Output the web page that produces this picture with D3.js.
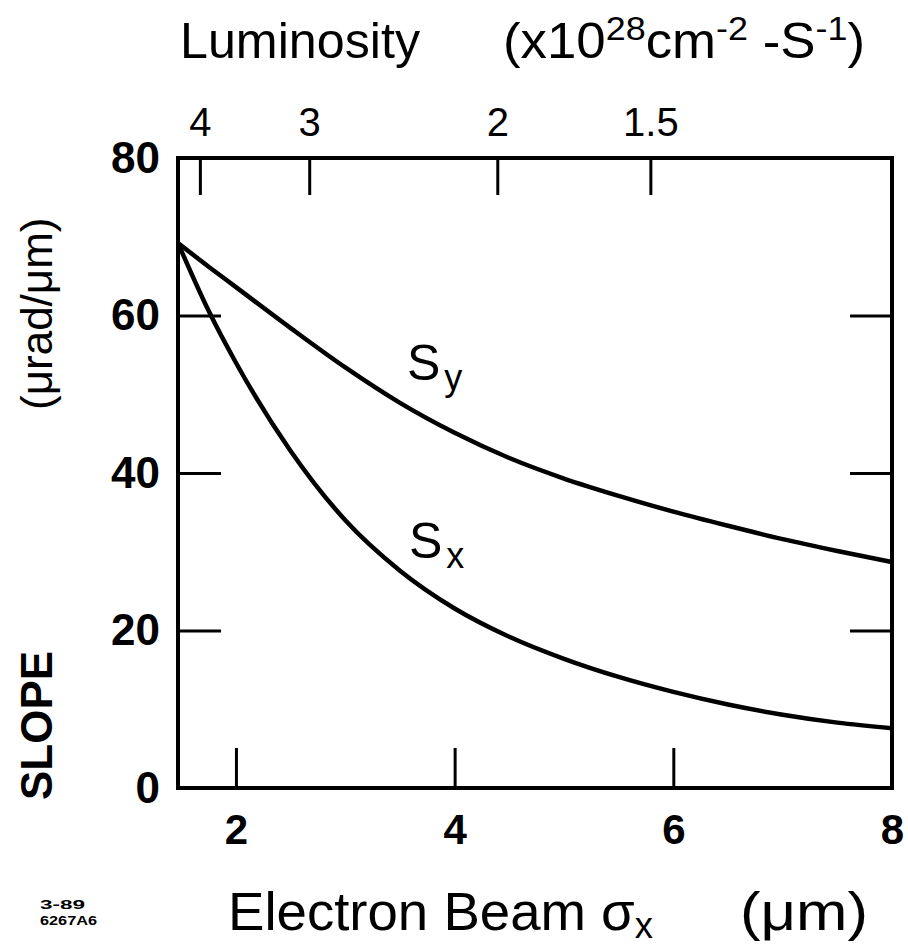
<!DOCTYPE html>
<html>
<head>
<meta charset="utf-8">
<script src="https://cdn.jsdelivr.net/npm/d3@7"></script>
<style>
  body { margin: 0; background: #fff; }
  svg { font-family: "Liberation Sans", Arial, sans-serif; }
</style>
</head>
<body>
<div class="chart"></div>
<script>
// values
var sigma   = [1.47, 1.75, 2.0, 2.5, 3.0, 3.5, 4.0, 4.5, 5.0, 5.5, 6.0, 6.5, 7.0, 7.5, 8.0];
var slopeSy = [69.2, 66.2, 63.6, 58.4, 53.4, 48.9, 45.1, 41.9, 39.3, 37.1, 35.1, 33.3, 31.6, 30.1, 28.7];
var slopeSx = [69.2, 60.6, 54.0, 42.8, 34.0, 27.6, 22.8, 19.2, 16.4, 14.1, 12.2, 10.6, 9.3, 8.3, 7.6];
var xTicks = [2, 4, 6, 8];
var yTicks = [0, 20, 40, 60, 80];
var lumLabels = ["4", "3", "2", "1.5"];
var lumSigma  = [1.67, 2.67, 4.39, 5.79];

var W = 908, H = 947;
var svg = d3.select(".chart").append("svg")
    .attr("width", W)
    .attr("height", H);

var x = d3.scaleLinear().domain([1.47, 8]).range([178, 892]);
var y = d3.scaleLinear().domain([0, 80]).range([788, 158]);

// frame
svg.append("rect")
    .attr("x", x.range()[0]).attr("y", y.range()[1])
    .attr("width", x.range()[1] - x.range()[0])
    .attr("height", y.range()[0] - y.range()[1])
    .attr("fill", "none").attr("stroke", "#000").attr("stroke-width", 4);

function styleAxis(g, size, weight) {
  g.select(".domain").remove();
  g.selectAll(".tick line").attr("stroke", "#000").attr("stroke-width", 3);
  g.selectAll(".tick text")
    .attr("fill", "#000")
    .attr("font-size", size)
    .attr("font-weight", weight);
}

// left axis
svg.append("g")
    .attr("transform", "translate(" + x.range()[0] + ",0)")
    .call(d3.axisLeft(y).tickValues(yTicks).tickSizeInner(-43).tickSizeOuter(0).tickPadding(18))
    .call(styleAxis, 44, "bold")
    .call(function(g) { g.selectAll(".tick").filter(function(d) { return d == 0 || d == 80; }).select("line").remove(); });

// right axis ticks
svg.append("g")
    .attr("transform", "translate(" + x.range()[1] + ",0)")
    .call(d3.axisRight(y).tickValues([20, 40, 60]).tickSizeInner(-42).tickSizeOuter(0).tickFormat(""))
    .call(styleAxis, 0, "normal");

// bottom axis
svg.append("g")
    .attr("transform", "translate(0," + y.range()[0] + ")")
    .call(d3.axisBottom(x).tickValues(xTicks).tickSizeInner(-40).tickSizeOuter(0).tickPadding(26).tickFormat(d3.format("d")))
    .call(styleAxis, 42, "bold")
    .call(function(g) { g.selectAll(".tick").filter(function(d) { return d == 8; }).select("line").remove(); });

// top luminosity axis
svg.append("g")
    .attr("transform", "translate(0," + y.range()[1] + ")")
    .call(d3.axisTop(x).tickValues(lumSigma).tickSizeInner(-37).tickSizeOuter(0).tickPadding(22)
      .tickFormat(function(d, i) { return lumLabels[i]; }))
    .call(styleAxis, 40, "normal");

// curves
var line = d3.line()
    .curve(d3.curveMonotoneX)
    .x(function(d) { return x(d[0]); })
    .y(function(d) { return y(d[1]); });

[slopeSy, slopeSx].forEach(function(s) {
  svg.append("path")
    .datum(sigma.map(function(v, i) { return [v, s[i]]; }))
    .attr("d", line)
    .attr("fill", "none")
    .attr("stroke", "#000")
    .attr("stroke-width", 4.5);
});

// curve labels
function subLabel(px, py, main, sub) {
  var t = svg.append("text").attr("x", px).attr("y", py).attr("font-size", 50);
  t.append("tspan").text(main);
  t.append("tspan").attr("dy", 10).attr("dx", 4).attr("font-size", 36).text(sub);
}
subLabel(407, 380, "S", "y");
subLabel(409, 558, "S", "x");

// top title
svg.append("text").attr("x", 180).attr("y", 58).attr("font-size", 50)
    .attr("textLength", 240).attr("lengthAdjust", "spacingAndGlyphs")
    .text("Luminosity");
var unit = svg.append("text").attr("x", 503).attr("y", 58).attr("font-size", 50)
    .attr("textLength", 362).attr("lengthAdjust", "spacingAndGlyphs");
unit.append("tspan").text("(x10");
unit.append("tspan").attr("dy", -18).attr("font-size", 34).text("28");
unit.append("tspan").attr("dy", 18).text("cm");
unit.append("tspan").attr("dy", -18).attr("font-size", 34).text("-2");
unit.append("tspan").attr("dy", 18).text(" -S");
unit.append("tspan").attr("dy", -18).attr("font-size", 34).text("-1");
unit.append("tspan").attr("dy", 18).text(")");

// bottom title
var bt = svg.append("text").attr("x", 228).attr("y", 930).attr("font-size", 54)
    .attr("textLength", 425).attr("lengthAdjust", "spacingAndGlyphs");
bt.append("tspan").text("Electron Beam ");
bt.append("tspan").text("σ");
bt.append("tspan").attr("dy", 8).attr("font-size", 36).text("x");
svg.append("text").attr("x", 740).attr("y", 930).attr("font-size", 54)
    .attr("textLength", 128).attr("lengthAdjust", "spacingAndGlyphs")
    .text("(μm)");

// y title
svg.append("text")
    .attr("transform", "translate(52,800) rotate(-90)")
    .attr("font-size", 44)
    .attr("font-weight", "bold")
    .text("SLOPE");
svg.append("text")
    .attr("transform", "translate(52,410) rotate(-90)")
    .attr("font-size", 44)
    .text("(μrad/μm)");

// figure id
svg.append("text").attr("x", 40).attr("y", 909).attr("font-size", 13).attr("font-weight", "bold")
    .attr("textLength", 45).attr("lengthAdjust", "spacingAndGlyphs").text("3-89");
svg.append("text").attr("x", 40).attr("y", 925).attr("font-size", 13).attr("font-weight", "bold")
    .attr("textLength", 57).attr("lengthAdjust", "spacingAndGlyphs").text("6267A6");
</script>
</body>
</html>
